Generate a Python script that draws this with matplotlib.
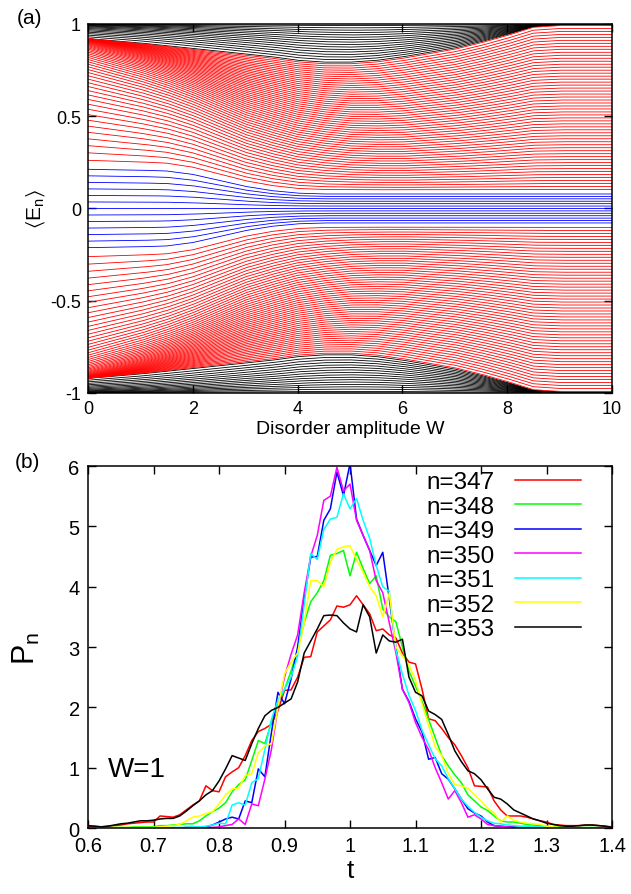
import numpy as np
import matplotlib
matplotlib.use("Agg")
import matplotlib.pyplot as plt

plt.rcParams["font.family"] = ["Liberation Sans", "DejaVu Sans"]
plt.rcParams["mathtext.default"] = "regular"

# ---------------------------------------
# panel (a): level bands vs disorder W
# ---------------------------------------
W_knots = [0, 1, 1.5, 2, 2.5, 3, 3.5, 4, 4.5, 5, 5.5, 6, 6.5, 7, 7.5, 8, 8.5, 9, 10]
# top of the blue (central) band
edge_blue = [0.23, 0.225, 0.22, 0.20, 0.165, 0.13, 0.105, 0.09, 0.085, 0.085,
             0.085, 0.085, 0.085, 0.085, 0.085, 0.085, 0.085, 0.085, 0.085]
# red / black boundary
edge_black = [0.92, 0.895, 0.88, 0.865, 0.85, 0.835, 0.82, 0.80, 0.79, 0.79,
              0.80, 0.82, 0.845, 0.87, 0.905, 0.945, 0.99, 1.0, 1.0]
# how far the levels have relaxed towards even spacing
spread = [0, 0.2, 0.32, 0.45, 0.58, 0.7, 0.78, 0.85, 0.9, 0.95,
          0.98, 1, 1, 1, 1, 1, 1, 1, 1]
n_black, n_red, n_blue = 16, 56, 13

# ---------------------------------------
# panel (b): P_n(t) at W=1
# ---------------------------------------
t = np.round(np.arange(60, 141) / 100, 2)
labels = ["n=347", "n=348", "n=349", "n=350", "n=351", "n=352", "n=353"]
colors = ["#ff0000", "#00ff00", "#0000ff", "#ff00ff", "#00ffff", "#ffff00", "#000000"]

P347 = [0.03, 0.03, 0.02, 0.03, 0.04, 0.05, 0.07, 0.08, 0.09, 0.10,
        0.10, 0.20, 0.19, 0.18, 0.22, 0.30, 0.38, 0.45, 0.70, 0.62,
        0.60, 0.85, 0.93, 1.00, 1.20, 1.45, 1.60, 1.65, 1.72, 1.95,
        2.28, 2.29, 2.50, 2.83, 2.84, 3.25, 3.35, 3.45, 3.68, 3.66,
        3.70, 3.85, 3.70, 3.55, 3.27, 3.30, 3.20, 3.15, 2.90, 2.75,
        2.72, 2.30, 1.81, 1.78, 1.65, 1.50, 1.38, 1.20, 1.00, 0.70,
        0.69, 0.68, 0.45, 0.30, 0.20, 0.20, 0.20, 0.18, 0.15, 0.12,
        0.10, 0.06, 0.05, 0.04, 0.04, 0.04, 0.05, 0.05, 0.04, 0.03,
        0.02]
P348 = [0.00, 0.00, 0.01, 0.01, 0.01, 0.01, 0.01, 0.02, 0.02, 0.02,
        0.02, 0.04, 0.04, 0.05, 0.06, 0.07, 0.07, 0.12, 0.20, 0.27,
        0.33, 0.42, 0.60, 0.72, 0.80, 1.12, 1.45, 1.40, 1.75, 2.05,
        2.30, 2.60, 2.95, 3.40, 3.75, 3.90, 4.10, 4.52, 4.55, 4.60,
        4.18, 4.57, 4.30, 4.05, 4.18, 3.63, 3.50, 3.42, 3.00, 2.60,
        2.35, 2.10, 1.80, 1.50, 1.20, 1.03, 0.88, 0.75, 0.55, 0.45,
        0.35, 0.29, 0.20, 0.12, 0.10, 0.10, 0.08, 0.06, 0.05, 0.04,
        0.03, 0.02, 0.02, 0.01, 0.01, 0.01, 0.01, 0.01, 0.01, 0.00,
        0.00]
P349 = [0.00, 0.00, 0.00, 0.00, 0.00, 0.00, 0.00, 0.00, 0.00, 0.00,
        0.00, 0.00, 0.00, 0.00, 0.00, 0.01, 0.01, 0.01, 0.02, 0.05,
        0.10, 0.15, 0.18, 0.15, 0.45, 0.42, 0.98, 0.85, 1.58, 2.25,
        2.06, 2.47, 3.00, 3.80, 4.49, 4.50, 5.10, 5.29, 5.90, 5.51,
        6.04, 5.12, 4.85, 4.60, 4.35, 4.57, 3.80, 3.00, 2.30, 2.10,
        1.81, 1.59, 1.14, 1.17, 0.90, 0.81, 0.65, 0.48, 0.32, 0.25,
        0.20, 0.10, 0.04, 0.03, 0.02, 0.02, 0.01, 0.01, 0.01, 0.01,
        0.00, 0.00, 0.00, 0.00, 0.00, 0.00, 0.00, 0.00, 0.00, 0.00,
        0.00]
P350 = [0.00, 0.00, 0.00, 0.00, 0.00, 0.00, 0.00, 0.00, 0.00, 0.00,
        0.00, 0.00, 0.00, 0.00, 0.00, 0.00, 0.00, 0.00, 0.01, 0.01,
        0.02, 0.04, 0.06, 0.15, 0.06, 0.40, 0.37, 0.81, 1.30, 2.00,
        2.50, 2.88, 3.20, 3.90, 4.50, 4.85, 5.43, 5.50, 5.98, 5.59,
        5.70, 5.10, 4.85, 4.60, 4.10, 3.90, 3.40, 2.91, 2.30, 2.08,
        1.75, 1.50, 1.30, 1.00, 0.75, 0.48, 0.62, 0.42, 0.18, 0.22,
        0.15, 0.06, 0.04, 0.03, 0.02, 0.01, 0.01, 0.01, 0.00, 0.00,
        0.00, 0.00, 0.00, 0.00, 0.00, 0.00, 0.00, 0.00, 0.00, 0.00,
        0.00]
P351 = [0.00, 0.00, 0.00, 0.00, 0.00, 0.00, 0.00, 0.00, 0.00, 0.00,
        0.00, 0.00, 0.00, 0.01, 0.01, 0.01, 0.02, 0.02, 0.03, 0.05,
        0.08, 0.07, 0.38, 0.42, 0.38, 0.75, 0.82, 1.30, 1.80, 2.12,
        2.30, 2.50, 2.85, 3.70, 4.55, 4.45, 4.95, 5.12, 5.15, 5.54,
        5.29, 5.46, 5.10, 4.80, 4.35, 4.00, 3.92, 2.95, 2.55, 2.20,
        1.95, 1.62, 1.38, 1.15, 1.03, 0.82, 0.65, 0.48, 0.36, 0.26,
        0.18, 0.12, 0.08, 0.07, 0.05, 0.04, 0.03, 0.03, 0.02, 0.02,
        0.01, 0.01, 0.00, 0.00, 0.00, 0.00, 0.00, 0.00, 0.00, 0.00,
        0.00]
P352 = [0.00, 0.00, 0.00, 0.00, 0.01, 0.01, 0.01, 0.01, 0.01, 0.01,
        0.01, 0.02, 0.03, 0.04, 0.06, 0.12, 0.18, 0.20, 0.24, 0.27,
        0.40, 0.55, 0.65, 0.66, 0.87, 0.90, 1.25, 1.36, 1.40, 2.00,
        2.55, 2.75, 2.90, 3.40, 4.10, 4.10, 4.00, 4.40, 4.62, 4.66,
        4.68, 4.45, 4.24, 4.00, 3.85, 3.50, 3.90, 3.00, 2.85, 2.70,
        2.45, 2.05, 1.70, 1.35, 1.20, 0.90, 0.72, 0.70, 0.66, 0.55,
        0.45, 0.33, 0.25, 0.10, 0.20, 0.13, 0.10, 0.08, 0.07, 0.06,
        0.03, 0.02, 0.01, 0.01, 0.01, 0.00, 0.00, 0.00, 0.00, 0.00,
        0.00]
P353 = [0.04, 0.03, 0.02, 0.03, 0.05, 0.07, 0.08, 0.10, 0.12, 0.12,
        0.13, 0.15, 0.16, 0.16, 0.20, 0.28, 0.37, 0.45, 0.55, 0.62,
        0.78, 0.98, 1.20, 1.16, 1.12, 1.40, 1.65, 1.86, 1.95, 2.00,
        2.07, 2.14, 2.42, 2.90, 3.10, 3.30, 3.52, 3.53, 3.52, 3.40,
        3.30, 3.25, 3.70, 3.50, 2.90, 3.20, 3.10, 3.08, 3.13, 2.50,
        2.25, 2.19, 1.94, 1.88, 1.80, 1.55, 1.28, 1.10, 0.95, 0.90,
        0.80, 0.65, 0.51, 0.48, 0.40, 0.30, 0.25, 0.20, 0.15, 0.12,
        0.08, 0.06, 0.04, 0.03, 0.03, 0.04, 0.05, 0.05, 0.04, 0.03,
        0.01]
series = [P347, P348, P349, P350, P351, P352, P353]

# --------------------------
# figure
# --------------------------
fig = plt.figure(figsize=(6.31, 8.95), dpi=100)
ax1 = fig.add_axes([0.1395, 0.5598, 0.8304, 0.4123])
ax2 = fig.add_axes([0.1395, 0.0737, 0.8304, 0.4045])

# ---- panel (a) ----
W = np.linspace(0, 10, 401)
e_blue = np.interp(W, W_knots, edge_blue)
e_black = np.interp(W, W_knots, edge_black)
mix = np.interp(W, W_knots, spread)


def band(lo, hi, n, power):
    # levels inside one band, crowded towards the outer edge at small W
    v = (np.arange(n) + 0.5) / n
    q0 = 1 - (1 - v) ** power
    q = (1 - mix[None, :]) * q0[:, None] + mix[None, :] * v[:, None]
    return lo[None, :] + (hi - lo)[None, :] * q


top = np.full_like(W, 0.998)
black_top = band(e_black - 0.004, np.maximum(top, e_black), n_black, 2.0)
red_top = band(e_blue + 0.01, e_black, n_red, 3.5)
blue_lines = band(-e_blue, e_blue, n_blue, 1.0)

for sign in (1, -1):
    ax1.plot(W, sign * black_top.T, color="black", lw=0.6)
for sign in (1, -1):
    ax1.plot(W, sign * red_top.T, color="#ff0000", lw=0.6)
ax1.plot(W, blue_lines.T, color="#0000ff", lw=0.6)

ax1.set_xlim(0, 10)
ax1.set_ylim(-1, 1)
ax1.set_xticks([0, 2, 4, 6, 8, 10])
ax1.set_yticks([-1, -0.5, 0, 0.5, 1])
ax1.set_yticklabels(["-1", "-0.5", "0", "0.5", "1"])
ax1.tick_params(direction="in", top=True, right=True, length=6, width=1,
                labelsize=13, pad=5)
ax1.set_xlabel("Disorder amplitude W", fontsize=14, labelpad=2)
ax1.set_ylabel(r"$\langle$E$_n$$\rangle$", fontsize=15)
ax1.yaxis.set_label_coords(-0.078, 0.5)

# ---- panel (b) ----
for vals, lab, col in zip(series, labels, colors):
    ax2.plot(t, vals, color=col, lw=1.1, label=lab)

ax2.set_xlim(0.6, 1.4)
ax2.set_ylim(0, 6)
xt = [0.6, 0.7, 0.8, 0.9, 1.0, 1.1, 1.2, 1.3, 1.4]
ax2.set_xticks(xt)
ax2.set_xticklabels(["0.6", "0.7", "0.8", "0.9", "1", "1.1", "1.2", "1.3", "1.4"])
ax2.set_yticks(range(7))
ax2.tick_params(direction="in", top=True, right=True, length=6, width=1,
                labelsize=14.5, pad=6)
ax2.set_xlabel("t", fontsize=19, labelpad=2)
ax2.set_ylabel("P$_n$", fontsize=22)
ax2.yaxis.set_label_coords(-0.088, 0.5)
ax2.text(0.63, 0.98, "W=1", fontsize=20, va="center")

ax2.legend(loc="upper right", bbox_to_anchor=(0.94, 0.985), frameon=False,
           markerfirst=False, fontsize=17.5, handlelength=2.7, handletextpad=0.85,
           labelspacing=0.1, borderaxespad=0, borderpad=0)

for ax in (ax1, ax2):
    for s in ax.spines.values():
        s.set_linewidth(1.1)

fig.text(30 / 631, 1 - 18 / 895, "(a)", fontsize=15, ha="center", va="center")
fig.text(27 / 631, 1 - 463 / 895, "(b)", fontsize=15, ha="center", va="center")

fig.savefig("out.png", dpi=100)
